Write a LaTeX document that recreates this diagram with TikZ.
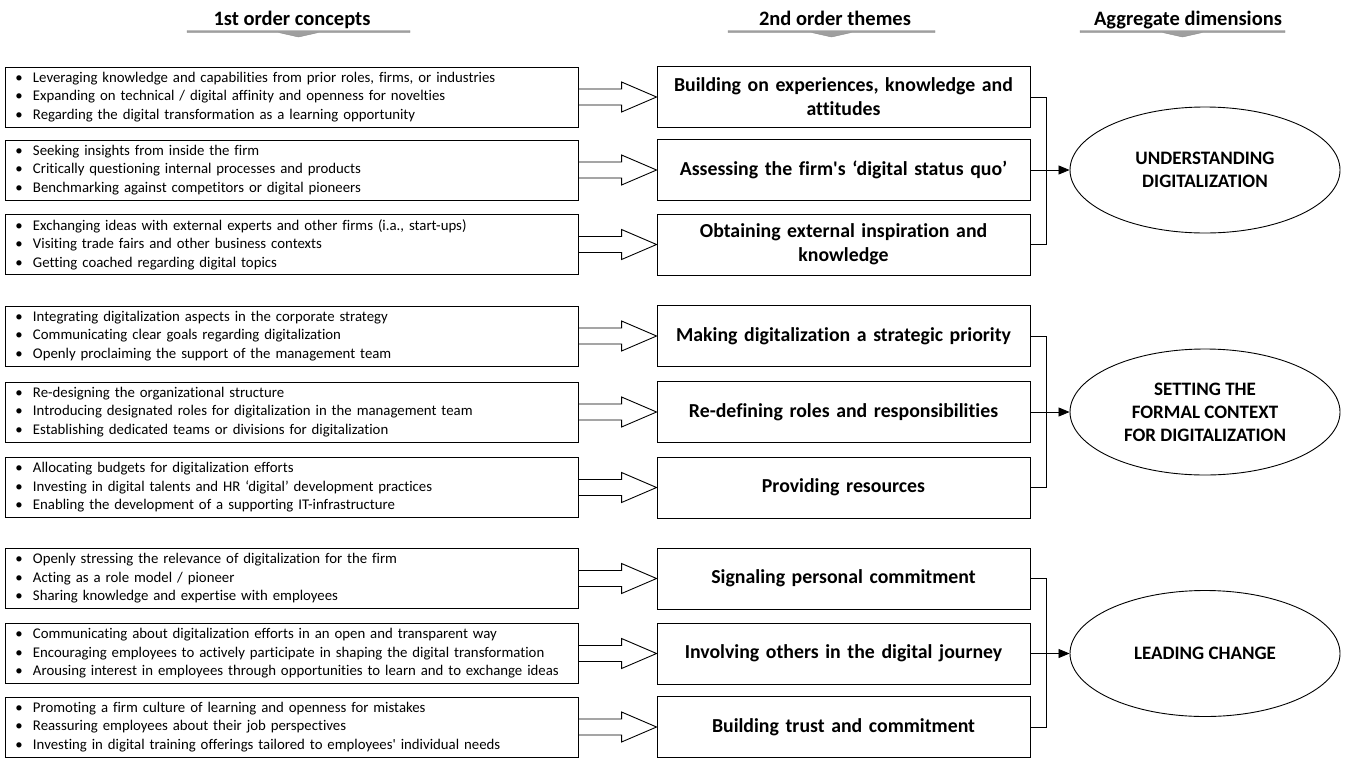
\documentclass[tikz,border=0pt]{standalone}
\usepackage{fontspec}
\setmainfont{Carlito}[Ligatures={TeX,NoCommon}]
\usetikzlibrary{shapes.geometric, arrows.meta, calc}

\newcommand{\bul}[1]{\makebox[17.5pt][l]{\textbullet}#1}

\begin{document}
\begin{tikzpicture}
        [x=1pt, y=-1pt, >={Triangle[length=11pt, width=9pt]},
         concept/.style={draw=black, line width=0.9pt, minimum width=573pt, minimum height=60pt, inner xsep=10.5pt, text width=552pt, align=left, font=\fontsize{14.8}{18.5}\selectfont},
         theme/.style={draw=black, line width=0.9pt, minimum width=373pt, minimum height=61pt, inner xsep=0pt, text width=373pt, align=center, font=\bfseries\fontsize{19.8}{24}\selectfont},
         dimension/.style={draw=black, ellipse, line width=0.9pt, minimum width=270pt, minimum height=126pt, inner sep=0pt, align=center, font=\bfseries\fontsize{19}{23}\selectfont},
         header/.style={anchor=base, font=\bfseries\fontsize{20.5}{22}\selectfont},
         hollow/.style={draw=black, line width=0.9pt, line join=miter}]

        \useasboundingbox (0,0) rectangle (1346,758);

        % column headers
        \node[header] (head-1) at (292, 25) {1st order concepts};
        \node[header] (head-2) at (835, 25) {2nd order themes};
        \node[header] (head-3) at (1188, 25) {Aggregate dimensions};

        \foreach \l/\r in {187/410, 728/935, 1080/1285}
        \filldraw[draw=gray!90, fill=gray!75, line width=0.4pt] (\l,30.5) -- (\r,30.5) -- (\r,32.5) -- ({(\l+\r)/2+20},32.5) -- ({(\l+\r)/2},37) -- ({(\l+\r)/2-20},32.5) -- (\l,32.5) -- cycle;

        % 1st order concepts
        \node[concept] (concept-1) at (291.5, 97) {\bul{Leveraging knowledge and capabilities from prior roles, firms, or industries}\\ \bul{Expanding on technical / digital affinity and openness for novelties}\\ \bul{Regarding the digital transformation as a learning opportunity}};
        \node[concept] (concept-2) at (291.5, 170) {\bul{Seeking insights from inside the firm}\\ \bul{Critically questioning internal processes and products}\\ \bul{Benchmarking against competitors or digital pioneers}};
        \node[concept] (concept-3) at (291.5, 244.5) {\bul{Exchanging ideas with external experts and other firms (i.a., start-ups)}\\ \bul{Visiting trade fairs and other business contexts}\\ \bul{Getting coached regarding digital topics}};
        \node[concept] (concept-4) at (291.5, 336) {\bul{Integrating digitalization aspects in the corporate strategy}\\ \bul{Communicating clear goals regarding digitalization}\\ \bul{Openly proclaiming the support of the management team}};
        \node[concept] (concept-5) at (291.5, 412) {\bul{Re-designing the organizational structure}\\ \bul{Introducing designated roles for digitalization in the management team}\\ \bul{Establishing dedicated teams or divisions for digitalization}};
        \node[concept] (concept-6) at (291.5, 487.5) {\bul{Allocating budgets for digitalization efforts}\\ \bul{Investing in digital talents and HR ‘digital’ development practices}\\ \bul{Enabling the development of a supporting IT-infrastructure}};
        \node[concept] (concept-7) at (291.5, 578.5) {\bul{Openly stressing the relevance of digitalization for the firm}\\ \bul{Acting as a role model / pioneer}\\ \bul{Sharing knowledge and expertise with employees}};
        \node[concept] (concept-8) at (291.5, 653.5) {\bul{Communicating about digitalization efforts in an open and transparent way}\\ \bul{Encouraging employees to actively participate in shaping the digital transformation}\\ \bul{Arousing interest in employees through opportunities to learn and to exchange ideas}};
        \node[concept] (concept-9) at (291.5, 727) {\bul{Promoting a firm culture of learning and openness for mistakes}\\ \bul{Reassuring employees about their job perspectives}\\ \bul{Investing in digital training offerings tailored to employees\textquotesingle\ individual needs}};

        % 2nd order themes
        \node[theme] (theme-1) at (843.5, 97) {Building on experiences, knowledge and\\attitudes};
        \node[theme] (theme-2) at (843.5, 170) {Assessing the firm\textquotesingle s ‘digital status quo’};
        \node[theme] (theme-3) at (843.5, 244.5) {Obtaining external inspiration and\\knowledge};
        \node[theme] (theme-4) at (843.5, 336) {Making digitalization a strategic priority};
        \node[theme] (theme-5) at (843.5, 412) {Re-defining roles and responsibilities};
        \node[theme] (theme-6) at (843.5, 487.5) {Providing resources};
        \node[theme] (theme-7) at (843.5, 578.5) {Signaling personal commitment};
        \node[theme] (theme-8) at (843.5, 653.5) {Involving others in the digital journey};
        \node[theme] (theme-9) at (843.5, 727) {Building trust and commitment};

        % aggregate dimensions
        \node[dimension] (dim-1) at (1205, 170) {UNDERSTANDING\\DIGITALIZATION};
        \node[dimension] (dim-2) at (1205, 412) {SETTING THE\\FORMAL CONTEXT\\FOR DIGITALIZATION};
        \node[dimension] (dim-3) at (1205, 653.5) {LEADING CHANGE};

        % hollow block arrows
        \foreach \i in {1,...,9}
        \draw[hollow] ($(concept-\i.east)+(0,-8)$) -- ($(theme-\i.west)+(-35,-8)$) -- ++(0,-7) -- (theme-\i.west) -- ++(-35,15) -- ++(0,-7) -- ($(concept-\i.east)+(0,8)$);

        % brackets
        \foreach \a/\b in {1/3, 4/6, 7/9}
        \draw[line width=0.8pt] (theme-\a.east) -- ++(16,0) |- (theme-\b.east);

        \foreach \m/\d in {2/1, 5/2, 8/3}
        \draw[->, line width=0.8pt] (theme-\m.east) -- (dim-\d.west);

    \end{tikzpicture}
\end{document}
